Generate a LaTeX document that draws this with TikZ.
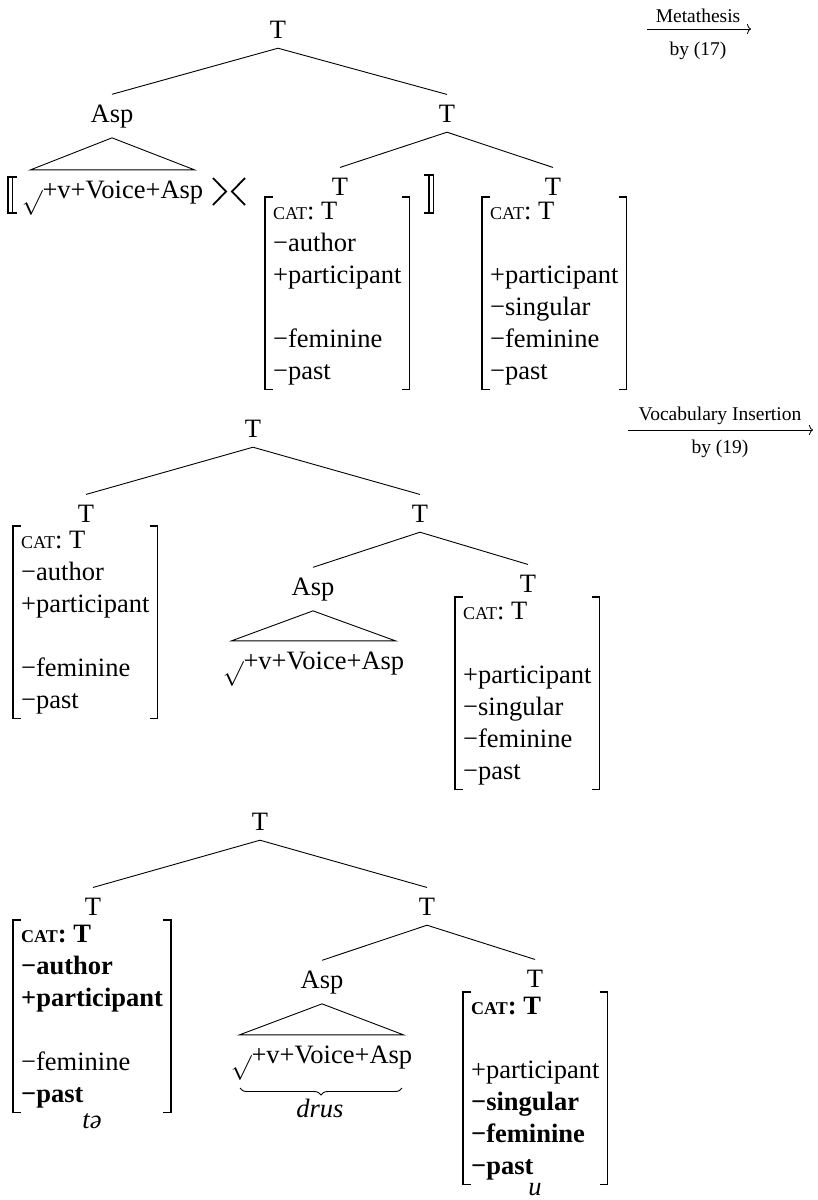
\documentclass[tikz,border=0pt]{standalone}
\usepackage{fontspec}
\setmainfont{Liberation Serif}
\usetikzlibrary{arrows.meta,decorations.pathreplacing}

% small-capital style category label
\newcommand\catlbl{{\fontsize{18}{18}\selectfont CAT}}
% root sign, hanging below the line like a radical
\newcommand\rootsurd{\raisebox{-11pt}{$\surd$}}

\tikzset{
  every node/.style={font=\fontsize{26.5}{32}\selectfont},
  cat/.style={inner xsep=0pt, inner ysep=10pt, anchor=base},
  featmat/.style={inner xsep=8pt, inner ysep=0pt, anchor=north west},
  rootstr/.style={inner xsep=0pt, inner ysep=9pt, text height=19pt, text depth=0pt, anchor=base},
  branch/.style={line width=0.9pt},
  brk/.style={line width=1.6pt},
  dbrk/.style={line width=1.2pt},
  angbrk/.style={line width=1.8pt, line join=miter},
  arrlbl/.style={font=\fontsize{19.5}{23}\selectfont, inner sep=0pt, anchor=base},
  gloss/.style={font=\fontsize{26.5}{32}\selectfont\itshape, inner sep=0pt, anchor=base},
  derive/.style={line width=0.8pt, -{To[length=4pt,width=10pt]}},
}

% square brackets round a feature matrix
\newcommand\featbrackets[1]{%
  \draw[brk] ([xshift=8pt]#1.north west) -- (#1.north west) -- (#1.south west) -- ([xshift=8pt]#1.south west);
  \draw[brk] ([xshift=-8pt]#1.north east) -- (#1.north east) -- (#1.south east) -- ([xshift=-8pt]#1.south east);}
% triangle roof from a category label over its string
\newcommand\rooftri[2]{%
  \draw[branch] (#1.south) -- ([xshift=9pt]#2.north west) -- ([xshift=-9pt]#2.north east) -- cycle;}

\begin{document}
\begin{tikzpicture}[x=1pt,y=-1pt]
\useasboundingbox (0,0) rectangle (817,1200);

% ---------------- first tree ----------------
\node[cat] (aT) at (278,38) {T};
\node[cat] (aAsp) at (112,122) {Asp};
\node[cat] (aT2) at (447,122) {T};
\node[rootstr] (aRoot) at (112.5,198) {\rootsurd+v+Voice+Asp};
\node[cat] (aTl) at (340,195) {T};
\node[cat] (aTr) at (553,195) {T};
\node[featmat] (aMl) at (265,197) {\begin{tabular}{@{}l@{}}
  \catlbl: T\\ −author\\ +participant\\ \\ −feminine\\ −past\end{tabular}};
\node[featmat] (aMr) at (482,197) {\begin{tabular}{@{}l@{}}
  \catlbl: T\\ \\ +participant\\ −singular\\ −feminine\\ −past\end{tabular}};
\draw[branch] (aT.south) -- (aAsp.north);
\draw[branch] (aT.south) -- (aT2.north);
\draw[branch] (aT2.south) -- (aTl.north);
\draw[branch] (aT2.south) -- (aTr.north);
\rooftri{aAsp}{aRoot}
\featbrackets{aMl}
\featbrackets{aMr}
% double brackets and angle brackets
\draw[dbrk] (17,177) -- (8,177) -- (8,213) -- (17,213);
\draw[dbrk] (12.5,177) -- (12.5,213);
\draw[dbrk] (424,175) -- (433.5,175) -- (433.5,213) -- (424,213);
\draw[dbrk] (429,175) -- (429,213);
\draw[angbrk] (213,178) -- (226,191.5) -- (213,205);
\draw[angbrk] (245,178) -- (232,191.5) -- (245,205);

% metathesis step
\coordinate (mA) at (647,29);
\coordinate (mB) at (751,29);
\draw[derive] (mA) -- (mB);
\node[arrlbl] (mTop) at (698,22) {Metathesis};
\node[arrlbl] (mBot) at (698,55) {by (17)};

% ---------------- second tree ----------------
\node[cat] (bT) at (253,437) {T};
\node[cat] (bTl) at (86,522) {T};
\node[cat] (bT2) at (420,522) {T};
\node[cat] (bAsp) at (313,595) {Asp};
\node[cat] (bTr) at (528,592) {T};
\node[rootstr] (bRoot) at (313.5,669) {\rootsurd+v+Voice+Asp};
\node[featmat] (bMl) at (13,526) {\begin{tabular}{@{}l@{}}
  \catlbl: T\\ −author\\ +participant\\ \\ −feminine\\ −past\end{tabular}};
\node[featmat] (bMr) at (455,597) {\begin{tabular}{@{}l@{}}
  \catlbl: T\\ \\ +participant\\ −singular\\ −feminine\\ −past\end{tabular}};
\draw[branch] (bT.south) -- (bTl.north);
\draw[branch] (bT.south) -- (bT2.north);
\draw[branch] (bT2.south) -- (bAsp.north);
\draw[branch] (bT2.south) -- (bTr.north);
\rooftri{bAsp}{bRoot}
\featbrackets{bMl}
\featbrackets{bMr}

% vocabulary insertion step
\coordinate (vA) at (628,430);
\coordinate (vB) at (813,430);
\draw[derive] (vA) -- (vB);
\node[arrlbl] (vTop) at (720,420) {Vocabulary Insertion};
\node[arrlbl] (vBot) at (720,453) {by (19)};

% ---------------- third tree ----------------
\node[cat] (cT) at (260,830) {T};
\node[cat] (cTl) at (93,915) {T};
\node[cat] (cT2) at (427,915) {T};
\node[cat] (cAsp) at (322,988) {Asp};
\node[cat] (cTr) at (535,987) {T};
\node[rootstr] (cRoot) at (321.5,1063) {\rootsurd+v+Voice+Asp};
\node[featmat] (cMl) at (13,920) {\begin{tabular}{@{}l@{}}
  \textbf{\catlbl: T}\\ \textbf{−author}\\ \textbf{+participant}\\ \\ −feminine\\ \textbf{−past}\end{tabular}};
\node[featmat] (cMr) at (463,992) {\begin{tabular}{@{}l@{}}
  \textbf{\catlbl: T}\\ \\ +participant\\ \textbf{−singular}\\ \textbf{−feminine}\\ \textbf{−past}\end{tabular}};
\draw[branch] (cT.south) -- (cTl.north);
\draw[branch] (cT.south) -- (cT2.north);
\draw[branch] (cT2.south) -- (cAsp.north);
\draw[branch] (cT2.south) -- (cTr.north);
\rooftri{cAsp}{cRoot}
\featbrackets{cMl}
\featbrackets{cMr}
% exponents
\coordinate (brL) at (240,1088);
\coordinate (brR) at (402,1088);
\draw[line width=0.9pt, decorate, decoration={brace, mirror, amplitude=7pt}] (brL) -- (brR);
\node[gloss] (drus) at (320,1117) {drus};
\node[gloss] (te) at (92,1128) {tə};
\node[gloss] (u) at (535,1195) {u};
\end{tikzpicture}
\end{document}
